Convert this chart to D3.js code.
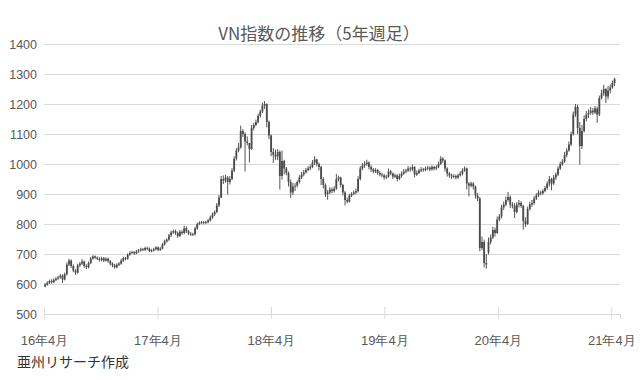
<!DOCTYPE html>
<html><head><meta charset="utf-8">
<script src="https://cdn.jsdelivr.net/npm/d3@7/dist/d3.min.js"></script>
<style>
html,body{margin:0;padding:0;background:#fff;}
svg{display:block;font-family:"Noto Sans CJK JP","Noto Sans",sans-serif;}
</style></head>
<body><svg id="chart" width="642" height="380"></svg>
<script>
const title = "VN指数の推移（5年週足）";
const source = "亜州リサーチ作成";
const yTicks = [500,600,700,800,900,1000,1100,1200,1300,1400];
const xTickLabels = ["16年4月","17年4月","18年4月","19年4月","20年4月","21年4月"];
const xTickWeeks = [0,52.2,104.4,156.6,208.8,261];

const open = [
592,598,604,610,606,614,618,622,628,615,
632,665,678,660,645,638,662,668,675,660,
656,670,685,692,688,684,680,686,678,684,
676,668,662,656,664,668,678,686,684,698,
704,706,702,708,712,716,714,720,718,710,
712,716,722,714,718,732,742,748,762,772,
776,770,760,774,770,786,776,768,765,766,
785,800,804,806,804,806,812,822,832,840,
862,888,950,945,955,940,950,978,1018,1045,
1055,1110,1100,1075,1070,1050,1120,1130,1140,1160,
1175,1195,1200,1140,1095,1040,1030,1025,1040,960,
1010,985,970,940,905,925,928,940,955,965,
972,980,985,990,1005,1015,1000,990,950,930,
900,905,915,910,918,950,955,930,905,880,
875,895,900,905,910,950,985,995,1000,1005,
990,982,975,980,970,965,962,955,958,975,
968,958,962,950,960,968,975,978,985,982,
990,965,970,978,982,980,985,988,982,990,
985,990,1000,1018,1012,985,968,962,958,960,
955,962,968,978,985,935,928,935,925,895,
885,720,740,670,705,740,755,780,770,815,
825,855,865,880,890,865,860,840,865,870,
860,810,800,850,865,870,885,895,905,902,
910,920,935,950,935,955,965,985,1000,1008,
1030,1045,1065,1100,1165,1190,1120,1060,1110,1150,
1165,1170,1178,1172,1185,1165,1220,1235,1250,1225,
1245,1255,1270];
const high = [
603,609,615,616,619,623,627,633,632,638,
672,684,682,665,649,667,673,683,678,666,
675,690,696,695,692,689,691,690,689,688,
680,672,667,669,673,684,691,690,702,709,
711,710,713,717,721,720,724,725,722,717,
721,726,725,723,737,748,752,767,778,782,
781,775,780,779,794,792,780,773,771,791,
805,809,810,810,811,817,828,838,845,870,
896,960,962,964,960,960,986,1026,1053,1070,
1128,1116,1105,1092,1070,1130,1137,1148,1168,1181,
1205,1210,1202,1145,1098,1053,1048,1050,1045,1045,
1014,990,975,948,937,936,945,963,973,980,
987,993,998,1013,1026,1018,1005,994,956,935,
913,923,921,926,967,961,958,934,910,888,
901,906,911,918,959,993,1003,1009,1014,1009,
996,987,986,984,976,971,967,964,985,980,
972,968,966,968,975,983,984,993,991,998,
993,978,984,990,987,991,994,992,996,994,
996,1008,1026,1023,1015,989,973,968,966,965,
968,976,986,992,988,940,941,939,928,903,
890,758,748,700,755,765,790,788,825,833,
864,875,892,907,895,873,870,873,880,876,
864,822,858,873,880,893,903,913,911,916,
926,942,960,954,963,972,992,1008,1016,1040,
1053,1075,1108,1175,1200,1198,1140,1130,1162,1177,
1182,1190,1186,1193,1191,1228,1247,1264,1253,1260,
1265,1278,1288];
const low = [
589,594,600,601,603,609,613,618,603,612,
628,660,654,639,630,634,656,663,654,650,
652,666,681,683,680,675,676,673,675,671,
662,656,651,652,660,664,673,679,681,694,
700,697,699,704,708,709,710,713,706,706,
708,712,709,710,715,728,738,744,757,767,
764,754,756,764,766,770,763,760,760,762,
781,796,799,799,800,802,808,817,826,836,
857,886,933,937,898,932,946,973,1012,1039,
1051,1090,975,1062,1005,1047,1112,1126,1135,1155,
1170,1183,1122,1083,1026,1003,1013,1013,915,948,
965,962,925,887,897,910,922,935,950,959,
968,975,979,986,997,992,978,930,918,890,
881,900,902,905,914,942,922,895,862,869,
871,890,896,899,905,945,979,987,994,982,
974,969,970,964,959,956,948,950,954,962,
950,953,942,946,954,964,969,973,974,976,
955,960,966,973,974,976,979,976,978,979,
980,986,997,1004,975,958,954,950,952,949,
950,958,962,974,915,892,922,915,885,876,
709,712,655,651,698,732,750,758,767,809,
819,847,859,875,853,852,820,835,855,854,
781,790,797,845,857,864,880,890,896,898,
906,914,925,912,930,947,960,980,994,1004,
1022,1041,1060,1095,1157,1100,998,1050,1105,1142,
1153,1164,1164,1166,1137,1160,1215,1227,1203,1215,
1235,1251,1260];
const close = [
598,604,610,606,614,618,622,628,615,632,
665,678,660,645,638,662,668,675,660,656,
670,685,692,688,684,680,686,678,684,676,
668,662,656,664,668,678,686,684,698,704,
706,702,708,712,716,714,720,718,710,712,
716,722,714,718,732,742,748,762,772,776,
770,760,774,770,786,776,768,765,766,785,
800,804,806,804,806,812,822,832,840,862,
888,950,945,955,940,950,978,1018,1045,1055,
1110,1100,1075,1070,1050,1120,1130,1140,1160,1175,
1195,1200,1140,1095,1040,1030,1025,1040,960,1010,
985,970,940,905,925,928,940,955,965,972,
980,985,990,1005,1015,1000,990,950,930,900,
905,915,910,918,950,955,930,905,880,875,
895,900,905,910,950,985,995,1000,1005,990,
982,975,980,970,965,962,955,958,975,968,
958,962,950,960,968,975,978,985,982,990,
965,970,978,982,980,985,988,982,990,985,
990,1000,1018,1012,985,968,962,958,960,955,
962,968,978,985,935,928,935,925,895,885,
720,740,670,665,740,755,780,770,815,825,
855,865,880,890,865,860,840,865,870,860,
810,800,850,865,870,885,895,905,902,910,
920,935,950,935,955,965,985,1000,1008,1030,
1045,1065,1100,1165,1190,1120,1060,1110,1150,1165,
1170,1178,1172,1185,1165,1220,1235,1250,1225,1245,
1255,1270,1283];

const weeks = d3.range(close.length);
const data = weeks.map(i => ({i, o: open[i], h: high[i], l: low[i], c: close[i]}));

const svg = d3.select("#chart");
const plotL = 44, plotR = 620, plotT = 44, plotB = 314;
const x = d3.scaleLinear().domain([0, 265]).range([plotL, plotR]);
const y = d3.scaleLinear().domain([500, 1400]).range([plotB, plotT]);

const yAxis = d3.axisLeft(y).tickValues(yTicks).tickSize(-(plotR - plotL)).tickPadding(7).tickFormat(d3.format("d"));
const gy = svg.append("g").attr("transform", `translate(${plotL},0)`).call(yAxis);
gy.select(".domain").remove();
gy.selectAll(".tick line").attr("stroke", "#d9d9d9").attr("stroke-width", 1);
gy.selectAll(".tick text").attr("fill", "#595959").style("font-size", "12.5px")
  .style("font-family", "'Liberation Sans','Noto Sans',sans-serif");

const xAxis = d3.axisBottom(x).tickValues(xTickWeeks).tickFormat((d, k) => xTickLabels[k]).tickSize(5).tickPadding(17);
const gx = svg.append("g").attr("transform", `translate(0,${plotB})`).call(xAxis);
gx.select(".domain").attr("stroke", "#d9d9d9");
gx.selectAll(".tick line").attr("stroke", "#d9d9d9").attr("y1", -7).attr("y2", 5);
gx.selectAll(".tick text").attr("fill", "#595959").style("font-size", "13px");

const g = svg.append("g");
const cx = d => x(d.i + 0.5);
g.selectAll("line.wick").data(data).join("line").attr("class", "wick")
  .attr("x1", d => cx(d)).attr("x2", d => cx(d))
  .attr("y1", d => y(d.h)).attr("y2", d => y(d.l))
  .attr("stroke", "#555555").attr("stroke-width", 1);
g.selectAll("rect.body").data(data).join("rect").attr("class", "body")
  .attr("x", d => cx(d) - 0.9).attr("width", 1.8)
  .attr("y", d => y(Math.max(d.o, d.c)))
  .attr("height", d => Math.max(0.8, Math.abs(y(d.o) - y(d.c))))
  .attr("fill", "#4a4a4a");

svg.append("text").attr("x", 319).attr("y", 40).attr("text-anchor", "middle")
  .attr("fill", "#595959").style("font-size", "17px").text(title);
svg.append("text").attr("x", 17).attr("y", 367)
  .attr("fill", "#333333").style("font-size", "14px").text(source);
</script></body></html>
